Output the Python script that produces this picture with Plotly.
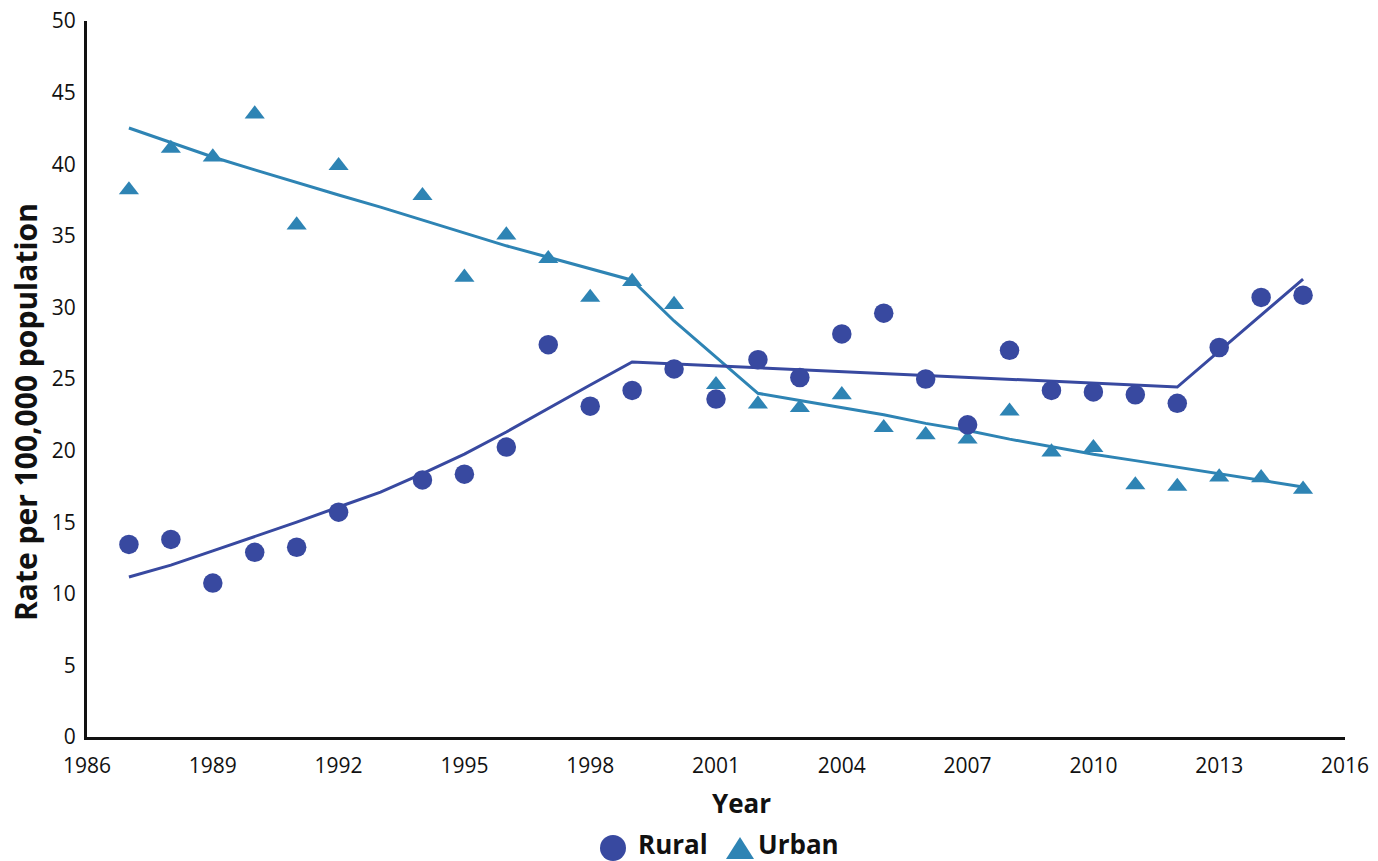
import plotly.graph_objects as go

# Observed rates per 100,000 population
rural_years = [1987, 1988, 1989, 1990, 1991, 1992, 1994, 1995, 1996, 1997, 1998, 1999,
               2000, 2001, 2002, 2003, 2004, 2005, 2006, 2007, 2008, 2009, 2010, 2011,
               2012, 2013, 2014, 2015]
rural_rates = [13.45, 13.8, 10.75, 12.9, 13.25, 15.7, 17.95, 18.35, 20.25, 27.4, 23.1, 24.2,
               25.7, 23.6, 26.35, 25.1, 28.15, 29.6, 25.0, 21.8, 27.0, 24.2, 24.1, 23.9,
               23.3, 27.2, 30.7, 30.85]

urban_years = [1987, 1988, 1989, 1990, 1991, 1992, 1994, 1995, 1996, 1997, 1998, 1999,
               2000, 2001, 2002, 2003, 2004, 2005, 2006, 2007, 2008, 2009, 2010, 2011,
               2012, 2013, 2014, 2015]
urban_rates = [38.2, 41.1, 40.5, 43.5, 35.75, 39.9, 37.8, 32.1, 35.05, 33.4, 30.7, 31.8,
               30.2, 24.6, 23.25, 23.0, 23.9, 21.6, 21.1, 20.8, 22.75, 19.9, 20.2, 17.6,
               17.5, 18.15, 18.1, 17.3]

# Fitted joinpoint trends
rural_fit_years = [1987, 1988, 1989, 1990, 1991, 1992, 1993, 1994, 1995, 1996, 1997, 1998,
                   1999, 2012, 2015]
rural_fit_rates = [11.17, 12.0, 13.0, 14.0, 15.0, 16.06, 17.1, 18.4, 19.76, 21.3, 22.97, 24.58,
                   26.19, 24.44, 31.98]

urban_fit_years = [1987, 1988, 1989, 1990, 1991, 1992, 1993, 1994, 1995, 1996, 1997, 1998,
                   1999, 2000, 2001, 2002, 2003, 2004, 2005, 2006, 2007, 2008, 2009, 2010,
                   2011, 2012, 2013, 2014, 2015]
urban_fit_rates = [42.53, 41.5, 40.5, 39.6, 38.7, 37.85, 37.0, 36.1, 35.2, 34.3, 33.5, 32.7,
                   31.9, 29.05, 26.5, 24.0, 23.5, 23.0, 22.5, 21.9, 21.4, 20.8, 20.25, 19.75,
                   19.3, 18.85, 18.4, 17.9, 17.46]

x_ticks = [1986, 1989, 1992, 1995, 1998, 2001, 2004, 2007, 2010, 2013, 2016]
y_ticks = [0, 5, 10, 15, 20, 25, 30, 35, 40, 45, 50]

RURAL = "#3849a0"
URBAN = "#2e84b4"
INK = "#111111"
FONT = "Open Sans"

fig = go.Figure()

fig.add_trace(go.Scatter(x=urban_fit_years, y=urban_fit_rates, mode="lines",
                         line=dict(color=URBAN, width=3), showlegend=False, hoverinfo="skip"))
fig.add_trace(go.Scatter(x=rural_fit_years, y=rural_fit_rates, mode="lines",
                         line=dict(color=RURAL, width=3), showlegend=False, hoverinfo="skip"))
fig.add_trace(go.Scatter(x=urban_years, y=urban_rates, mode="markers", name="Urban",
                         marker=dict(symbol="triangle-up", size=17.5, color=URBAN,
                                     line=dict(width=0)),
                         showlegend=False))
fig.add_trace(go.Scatter(x=rural_years, y=rural_rates, mode="markers", name="Rural",
                         marker=dict(symbol="circle", size=19.5, color=RURAL,
                                     line=dict(width=0)),
                         showlegend=False))

L, R, T, B = 87, 33, 21, 124
W, H = 1378, 861
pw, ph = W - L - R, H - T - B


def px(xp):
    return (xp - L) / pw


def py(yp):
    return (H - B - yp) / ph


# Legend drawn below the axis title
shapes = [
    dict(type="circle", xref="paper", yref="paper",
         x0=px(600), x1=px(626), y0=py(861), y1=py(835),
         fillcolor=RURAL, line=dict(width=0)),
    dict(type="path", xref="paper", yref="paper",
         path=f"M {px(726)},{py(859)} L {px(754)},{py(859)} L {px(740)},{py(837)} Z",
         fillcolor=URBAN, line=dict(width=0)),
]

annotations = [
    dict(text="<b>Rate per 100,000 population</b>", xref="paper", yref="paper",
         x=px(25), y=py(412), textangle=-90, showarrow=False,
         font=dict(family=FONT, size=30, color=INK), xanchor="center", yanchor="middle"),
    dict(text="<b>Year</b>", xref="paper", yref="paper",
         x=px(741), y=py(803), showarrow=False,
         font=dict(family=FONT, size=26, color=INK), xanchor="center", yanchor="middle"),
    dict(text="<b>Rural</b>", xref="paper", yref="paper",
         x=px(636), y=py(844), showarrow=False,
         font=dict(family=FONT, size=26, color=INK), xanchor="left", yanchor="middle"),
    dict(text="<b>Urban</b>", xref="paper", yref="paper",
         x=px(756), y=py(844), showarrow=False,
         font=dict(family=FONT, size=26, color=INK), xanchor="left", yanchor="middle"),
]

fig.update_layout(
    width=W, height=H,
    margin=dict(l=L, r=R, t=T, b=B, pad=0, autoexpand=False),
    paper_bgcolor="white", plot_bgcolor="white",
    font=dict(family=FONT, color=INK),
    shapes=shapes, annotations=annotations,
    xaxis=dict(range=[1986, 2016], tickvals=x_ticks, ticktext=[str(v) for v in x_ticks],
               showgrid=False, zeroline=False, showline=True, linecolor="#111111",
               linewidth=3, ticks="", ticklabelstandoff=8, automargin=False,
               tickfont=dict(family=FONT, size=21, color=INK)),
    yaxis=dict(range=[0, 50], tickvals=y_ticks, ticktext=[str(v) for v in y_ticks],
               showgrid=False, zeroline=False, showline=True, linecolor="#111111",
               linewidth=3, ticks="", ticklabelstandoff=4, automargin=False,
               tickfont=dict(family=FONT, size=21, color=INK)),
)

fig.write_html("out.html")
